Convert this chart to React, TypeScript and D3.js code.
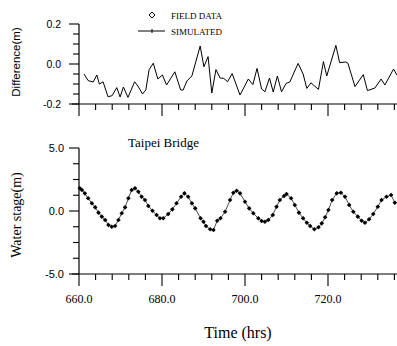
import React from "react";
import * as d3 from "d3";

// Difference (m) series: [time hrs, value]
const diffTimes = [661.2,662.2,663.4,664.3,664.9,665.8,667.0,668.0,669.1,669.9,670.7,671.8,673.4,674.2,675.3,676.1,676.9,677.9,679.0,680.1,681.1,683.1,684.5,685.1,686.0,687.2,689.2,690.1,691.1,692.0,693.0,694.0,694.9,695.8,696.9,698.8,700.8,701.9,702.9,704.0,704.8,705.9,706.8,707.8,708.8,709.9,710.8,712.8,714.0,714.9,715.9,717.7,718.9,719.7,721.9,722.8,724.3,724.8,726.5,728.5,729.5,731.3,732.8,733.7,735.8,736.6];
const diffValues = [-0.05,-0.083,-0.09,-0.055,-0.10,-0.089,-0.164,-0.158,-0.118,-0.165,-0.115,-0.167,-0.089,-0.11,-0.15,-0.13,-0.028,0.004,-0.075,-0.055,-0.105,-0.039,-0.13,-0.13,-0.085,-0.06,0.09,-0.014,0.037,-0.145,-0.028,-0.07,-0.072,-0.089,-0.048,-0.155,-0.075,-0.103,-0.022,-0.125,-0.139,-0.07,-0.14,-0.06,-0.139,-0.097,-0.09,0.003,-0.05,-0.122,-0.094,-0.127,0.012,-0.06,0.093,0.007,0.01,0.004,-0.113,-0.053,-0.133,-0.12,-0.075,-0.105,-0.025,-0.055];

// Water stage (m) field data
const stageTimes = [660.2,660.7,661.4,662.2,663.1,663.9,664.7,665.5,666.3,667.1,667.9,668.7,669.5,670.3,671.1,671.9,672.7,673.5,674.3,675.1,675.9,676.7,677.7,678.7,679.5,680.3,681.5,682.5,683.5,684.6,685.4,686.3,687.2,688.0,689.3,690.0,690.6,691.6,692.4,693.3,694.1,695.2,696.4,697.2,698.0,698.8,700.0,701.0,702.0,703.2,704.0,704.8,705.6,706.7,707.6,708.4,709.4,710.0,711.1,712.0,713.0,714.0,714.9,715.7,716.7,717.7,718.5,719.3,720.1,721.0,722.1,723.1,724.1,725.1,726.1,727.2,728.1,728.9,729.9,730.9,732.0,732.9,734.1,735.2,736.1];
const stageValues = [1.80,1.67,1.40,1.01,0.61,0.29,-0.13,-0.45,-0.71,-1.11,-1.25,-1.19,-0.71,-0.18,0.29,1.01,1.67,1.80,1.53,1.13,0.87,0.40,0.02,-0.32,-0.58,-0.58,-0.24,0.13,0.61,1.13,1.40,1.13,0.61,0.21,-0.58,-0.85,-1.19,-1.45,-1.51,-0.77,-0.58,-0.06,0.87,1.45,1.61,1.40,0.74,0.21,-0.18,-0.58,-0.79,-0.85,-0.71,-0.32,0.34,0.87,1.19,1.35,1.01,0.48,-0.13,-0.58,-0.93,-1.19,-1.45,-1.29,-0.98,-0.50,0.08,0.87,1.40,1.45,1.13,0.48,-0.06,-0.45,-0.77,-0.93,-0.66,-0.24,0.34,0.87,1.13,1.27,0.66];

const xTickLabels = [660, 680, 700, 720, 740];
const diffTicks = [0.2, 0.0, -0.2];
const stageTicks = [5.0, 0.0, -5.0];

const serif = "'Liberation Serif', 'DejaVu Serif', serif";
const sans = "'Liberation Sans', Arial, sans-serif";

export default function App() {
  const W = 397, H = 346;
  const x = d3.scaleLinear().domain([660, 740]).range([79, 411]);
  const yTop = d3.scaleLinear().domain([-0.2, 0.2]).range([104, 24]);
  const yBot = d3.scaleLinear().domain([-5, 5]).range([274, 148]);

  const minorX = d3.range(660, 744, 4);
  const minorTop = d3.range(-0.2, 0.2001, 0.05);
  const minorBot = d3.range(-5, 5.001, 1.25);

  const diffData = diffTimes.map((t, i) => [t, diffValues[i]] as [number, number]);
  const stageData = stageTimes.map((t, i) => [t, stageValues[i]] as [number, number]);

  const lineTop = d3.line<[number, number]>().x(d => x(d[0])).y(d => yTop(d[1]));
  const lineBot = d3.line<[number, number]>().x(d => x(d[0])).y(d => yBot(d[1]));

  const xAxis = (y0: number) => (
    <g>
      <line x1={72} x2={W} y1={y0} y2={y0} stroke="#000" strokeWidth={1.2} />
      {minorX.map(t => {
        const major = Math.abs((t - 660) % 20) < 1e-6;
        return <line key={t} x1={x(t)} x2={x(t)} y1={y0} y2={y0 + (major ? 12 : 6)} stroke="#000" strokeWidth={1.1} />;
      })}
    </g>
  );

  const diamond = (cx: number, cy: number, r: number) => `M${cx},${cy - r}L${cx + r},${cy}L${cx},${cy + r}L${cx - r},${cy}Z`;

  return (
    <svg width={W} height={H} style={{ position: "absolute", left: 0, top: 0, background: "#fff" }}>
      <rect width={W} height={H} fill="#fff" />
      {/* Top panel */}
      <line x1={79} x2={79} y1={yTop(0.2)} y2={yTop(-0.2)} stroke="#000" strokeWidth={1.2} />
      {minorTop.map((v, i) => {
        const major = i % 4 === 0;
        return <line key={i} x1={79 - (major ? 10 : 6)} x2={79} y1={yTop(v)} y2={yTop(v)} stroke="#000" strokeWidth={1.1} />;
      })}
      {diffTicks.map(v => (
        <text key={v} x={61} y={yTop(v) + 3.5} textAnchor="end" fontFamily={sans} fontSize={10.5}>{v.toFixed(1)}</text>
      ))}
      {xAxis(104)}
      <path d={lineTop(diffData) || ""} fill="none" stroke="#000" strokeWidth={1} />
      <text transform="translate(20,62) rotate(-90)" textAnchor="middle" fontFamily={sans} fontSize={11.5}>Difference(m)</text>

      {/* Legend */}
      <path d={diamond(152, 15, 3)} fill="none" stroke="#000" strokeWidth={1} />
      <text x={171} y={18.5} fontFamily={serif} fontSize={9}>FIELD DATA</text>
      <line x1={138} x2={165} y1={31} y2={31} stroke="#000" strokeWidth={1} />
      <line x1={152} x2={152} y1={29} y2={33} stroke="#000" strokeWidth={1} />
      <text x={171} y={34.5} fontFamily={serif} fontSize={9}>SIMULATED</text>

      {/* Bottom panel */}
      <line x1={79} x2={79} y1={yBot(5)} y2={yBot(-5)} stroke="#000" strokeWidth={1.2} />
      {minorBot.map((v, i) => {
        const major = i % 4 === 0;
        return <line key={i} x1={79 - (major ? 10 : 6)} x2={79} y1={yBot(v)} y2={yBot(v)} stroke="#000" strokeWidth={1.1} />;
      })}
      {stageTicks.map(v => (
        <text key={v} x={64} y={yBot(v) + 4} textAnchor="end" fontFamily={sans} fontSize={11}>{v.toFixed(1)}</text>
      ))}
      {xAxis(274)}
      {xTickLabels.map(t => (
        <text key={t} x={x(t)} y={303} textAnchor="middle" fontFamily={serif} fontSize={12}>{t.toFixed(1)}</text>
      ))}
      <path d={lineBot(stageData) || ""} fill="none" stroke="#000" strokeWidth={0.7} />
      {stageData.map((d, i) => (
        <path key={i} d={diamond(x(d[0]), yBot(d[1]), 2.3)} fill="#000" />
      ))}
      <text x={128} y={147} fontFamily={serif} fontSize={13}>Taipei Bridge</text>
      <text transform="translate(21,215) rotate(-90)" textAnchor="middle" fontFamily={serif} fontSize={14}>Water stage(m)</text>
      <text x={238} y={338} textAnchor="middle" fontFamily={serif} fontSize={16}>Time (hrs)</text>
    </svg>
  );
}
